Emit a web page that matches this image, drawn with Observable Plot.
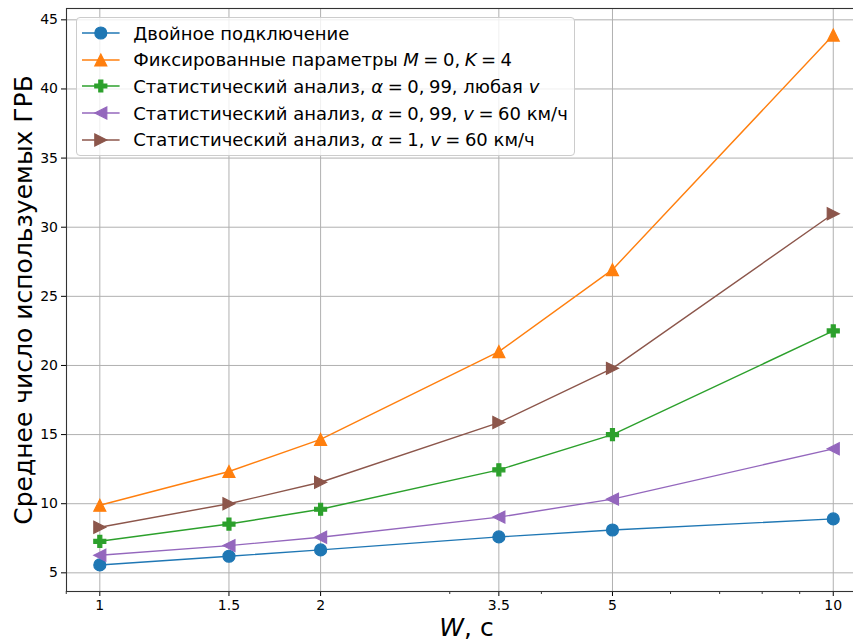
<!DOCTYPE html>
<html><head><meta charset="utf-8">
<script src="https://cdn.jsdelivr.net/npm/d3@7"></script>
<script src="https://cdn.jsdelivr.net/npm/@observablehq/plot@0.6"></script>
<style>
body{margin:0;background:#fff;}
#wrap{position:relative;width:853px;height:641px;overflow:hidden;font-family:"DejaVu Sans",sans-serif;}
#legend{position:absolute;left:75.5px;top:16.5px;width:497.5px;height:134.5px;border:1px solid #cccccc;border-radius:4px;background:rgba(255,255,255,0.8);padding-top:2.5px;}
.row{display:flex;align-items:center;height:26.6px;font-size:18px;color:#000;white-space:nowrap;}
.row svg{margin-left:5.2px;margin-right:14px;flex:none;overflow:visible;}
.sp{display:inline-block;width:4.5px;}
</style></head>
<body><div id="wrap"></div>
<script>
// ---- data ----
const W = [1, 1.5, 2, 3.5, 5, 10];
const dual     = [5.57, 6.2, 6.66, 7.6, 8.1, 8.9];
const fixed    = [9.89, 12.33, 14.65, 21.0, 26.93, 43.9];
const statAny  = [7.28, 8.53, 9.6, 12.45, 15.0, 22.5];
const stat60   = [6.27, 6.97, 7.57, 9.03, 10.33, 13.97];
const statA1   = [8.3, 10.0, 11.55, 15.87, 19.79, 30.97];
const seriesValues = [dual, fixed, statAny, stat60, statA1];
const S = '<span class="sp"></span>';
const legendLabels = [
  "Двойное подключение",
  `Фиксированные параметры <i>M</i>${S}=${S}0,${S}<i>K</i>${S}=${S}4`,
  `Статистический анализ, <i>α</i>${S}=${S}0,${S}99, любая <i>v</i>`,
  `Статистический анализ, <i>α</i>${S}=${S}0,${S}99, <i>v</i>${S}=${S}60 км/ч`,
  `Статистический анализ, <i>α</i>${S}=${S}1, <i>v</i>${S}=${S}60 км/ч`
];
const colors = ["#1f77b4", "#ff7f0e", "#2ca02c", "#9467bd", "#8c564b"];
const xTicks = [1, 1.5, 2, 3.5, 5, 10];
const xMinorTicks = [0.9, 3, 4, 6, 7, 8, 9];
const yTicks = [5, 10, 15, 20, 25, 30, 35, 40, 45];
const yLabel = "Среднее число используемых ГРБ";
const xLabel = "W, с";

// ---- marker symbols (matplotlib-like) ----
function sym(fn){ return {draw(ctx, size){ const r = Math.sqrt(size / Math.PI); fn(ctx, r); }}; }
const symCircle = sym((c, r) => { c.moveTo(r, 0); c.arc(0, 0, r, 0, 2 * Math.PI); c.closePath(); });
const symTriUp = sym((c, r) => { c.moveTo(0, -r); c.lineTo(r, r); c.lineTo(-r, r); c.closePath(); });
const symPlus = sym((c, r) => { const a = r / 3;
  c.moveTo(-a, -r); c.lineTo(a, -r); c.lineTo(a, -a); c.lineTo(r, -a); c.lineTo(r, a); c.lineTo(a, a);
  c.lineTo(a, r); c.lineTo(-a, r); c.lineTo(-a, a); c.lineTo(-r, a); c.lineTo(-r, -a); c.lineTo(-a, -a); c.closePath(); });
const symTriLeft = sym((c, r) => { c.moveTo(-r, 0); c.lineTo(r, -r); c.lineTo(r, r); c.closePath(); });
const symTriRight = sym((c, r) => { c.moveTo(r, 0); c.lineTo(-r, -r); c.lineTo(-r, r); c.closePath(); });
const symbols = [symCircle, symTriUp, symPlus, symTriLeft, symTriRight];
const R = 6;

const tables = seriesValues.map((vals, i) => W.map((w, j) => ({W: w, v: vals[j], s: i})));

const seriesMarks = [];
tables.forEach((t, i) => {
  seriesMarks.push(Plot.line(t, {x: "W", y: "v", stroke: colors[i], strokeWidth: 1.4}));
  seriesMarks.push(Plot.dot(t, {x: "W", y: "v", r: R, symbol: symbols[i], fill: colors[i], stroke: colors[i], strokeWidth: 1.2}));
});

const plot = Plot.plot({
  width: 853, height: 641,
  marginLeft: 66, marginRight: -13, marginTop: 8, marginBottom: 50,
  x: {type: "log", domain: [0.9007, 11.1]},
  y: {domain: [3.65, 45.82]},
  style: {fontFamily: "DejaVu Sans", fontSize: "14px", color: "#000", background: "#fff", overflow: "hidden"},
  marks: [
    Plot.gridX(xTicks, {stroke: "#b0b0b0", strokeOpacity: 1, strokeWidth: 1}),
    Plot.gridY(yTicks, {stroke: "#b0b0b0", strokeOpacity: 1, strokeWidth: 1}),
    Plot.axisX(xMinorTicks, {tickSize: 3, tickFormat: () => "", label: null, strokeWidth: 0.8}),
    Plot.axisX(xTicks, {tickSize: 5, tickPadding: 3.5, tickFormat: d => String(d), fontSize: 14, label: null}),
    Plot.axisY(yTicks, {tickSize: 5, tickPadding: 3.5, fontSize: 14, label: null}),
    Plot.frame({stroke: "#333", strokeWidth: 1.1}),
    ...seriesMarks,
    Plot.text([yLabel], {text: d => d, frameAnchor: "left", rotate: -90, dx: -43, fontSize: 25, textAnchor: "middle", lineAnchor: "middle"}),
    Plot.text([xLabel], {text: d => d, frameAnchor: "bottom", dy: 36, fontSize: 25, textAnchor: "middle", lineAnchor: "middle"})
  ]
});

const wrap = document.getElementById("wrap");
wrap.appendChild(plot);

// italic W in x label
d3.select(plot).selectAll("text").filter(function(){ return this.textContent === xLabel; })
  .html('<tspan font-style="italic">W</tspan>, с');

// ---- legend (HTML overlay) ----
const legend = document.createElement("div");
legend.id = "legend";
legendLabels.forEach((lab, i) => {
  const row = document.createElement("div");
  row.className = "row";
  const p = d3.path();
  symbols[i].draw(p, R * R * Math.PI);
  row.innerHTML = `<svg width="37.6" height="20"><line x1="0" x2="37.6" y1="10" y2="10" stroke="${colors[i]}" stroke-width="1.4"/>` +
    `<path transform="translate(18.8,10)" d="${p.toString()}" fill="${colors[i]}" stroke="${colors[i]}" stroke-width="1.2"/></svg><span>${lab}</span>`;
  legend.appendChild(row);
});
wrap.appendChild(legend);
</script>
</body></html>
